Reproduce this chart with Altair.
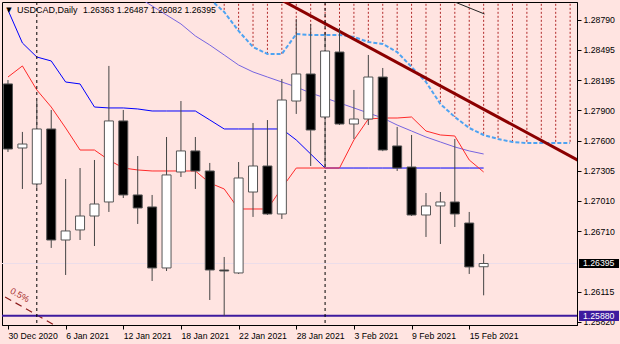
import altair as alt
import pandas as pd

# ---------------- data ----------------
dates = ["30 Dec", "31 Dec", "4 Jan", "5 Jan", "6 Jan", "7 Jan", "8 Jan", "11 Jan", "12 Jan",
         "13 Jan", "14 Jan", "15 Jan", "18 Jan", "19 Jan", "20 Jan", "21 Jan", "22 Jan", "25 Jan",
         "26 Jan", "27 Jan", "28 Jan", "29 Jan", "1 Feb", "2 Feb", "3 Feb", "4 Feb", "5 Feb",
         "8 Feb", "9 Feb", "10 Feb", "11 Feb", "12 Feb", "15 Feb", "16 Feb"]

opens = [1.28161, 1.27531, 1.27177, 1.27718, 1.26626, 1.26725, 1.26862, 1.27000, 1.27797, 1.27069,
         1.26951, 1.26351, 1.27295, 1.27502, 1.27305, 1.26331, 1.26302, 1.27098, 1.27354, 1.26882,
         1.27993, 1.28259, 1.27836, 1.28475, 1.27767, 1.27816, 1.28229, 1.27551, 1.27344, 1.26872,
         1.26961, 1.27000, 1.26793, 1.26363]
highs = [1.28200, 1.27689, 1.27993, 1.27905, 1.27226, 1.27334, 1.27413, 1.28338, 1.27905, 1.27452,
         1.27069, 1.27639, 1.27993, 1.27639, 1.27384, 1.26459, 1.27393, 1.27777, 1.27806, 1.28210,
         1.28800, 1.28751, 1.28662, 1.28711, 1.28102, 1.28446, 1.28318, 1.27738, 1.27659, 1.27088,
         1.27098, 1.27620, 1.26902, 1.26487]
lows = [1.27492, 1.27128, 1.27138, 1.26548, 1.26282, 1.26626, 1.26567, 1.26902, 1.27039, 1.26784,
        1.26223, 1.26321, 1.27246, 1.27128, 1.26036, 1.25880, 1.26292, 1.26853, 1.26872, 1.26833,
        1.27866, 1.27354, 1.27344, 1.27757, 1.27620, 1.27757, 1.27500, 1.27305, 1.26862, 1.26656,
        1.26587, 1.26754, 1.26292, 1.26082]
closes = [1.27521, 1.27570, 1.27718, 1.26626, 1.26715, 1.26862, 1.26980, 1.27797, 1.27069, 1.26941,
          1.26351, 1.27266, 1.27502, 1.27305, 1.26331, 1.26321, 1.27236, 1.27354, 1.26882, 1.28003,
          1.28259, 1.27708, 1.28485, 1.27767, 1.27816, 1.28229, 1.27511, 1.27334, 1.26872, 1.26961,
          1.27000, 1.26882, 1.26361, 1.26395]

tenkan = [1.28229, 1.28338, 1.28102, 1.27934, 1.27728, 1.27511, 1.27511, 1.27413, 1.27334, 1.27315,
          1.27305, 1.27305, 1.27305, 1.27305, 1.27187, 1.27128, 1.26931, 1.26931, 1.26931, 1.27138,
          1.27334, 1.27334, 1.27334, 1.27334, 1.27610, 1.27816, 1.27826, 1.27826, 1.27836, 1.27698,
          1.27659, 1.27649, 1.27413, 1.27295]
kijun = [1.28888, 1.28564, 1.28426, 1.28387, 1.28180, 1.28161, 1.27934, 1.27925, 1.27925, 1.27915,
         1.27895, 1.27895, 1.27895, 1.27895, 1.27807, 1.27718, 1.27718, 1.27718, 1.27718, 1.27718,
         1.27610, 1.27472, 1.27334, 1.27334, 1.27334, 1.27334, 1.27334, 1.27334, 1.27334, 1.27334,
         1.27334, 1.27334, 1.27334, 1.27334]
ma_start = 8
ma_line = [1.29105, 1.29016, 1.28928, 1.28839, 1.28751, 1.28633, 1.28544, 1.28446, 1.28347, 1.28279,
           1.28229, 1.28180, 1.28131, 1.28072, 1.28023, 1.27974, 1.27925, 1.27875, 1.27826, 1.27757,
           1.27698, 1.27639, 1.27590, 1.27541, 1.27502, 1.27472]
span_start = 14
span = [1.28997, 1.28869, 1.28682, 1.28524, 1.28456, 1.28456, 1.28652, 1.28643, 1.28643, 1.28643,
        1.28623, 1.28574, 1.28554, 1.28475, 1.28328, 1.28180, 1.27964, 1.27836, 1.27728, 1.27659,
        1.27620, 1.27590, 1.27580, 1.27580, 1.27580, 1.27580]

trend_idx = [18, 40]
trend_val = [1.29061, 1.27376]
channel_idx = [-0.2, 4.0]
channel_val = [1.26066, 1.25727]
seg_idx = [31.0, 33.06]
seg_val = [1.28967, 1.28849]
month_sep_idx = [2, 22]

support_level = 1.25880
last_price = 1.26395

tick_idx = [0, 4, 8, 12, 16, 20, 24, 28, 32]
tick_labels = ["30 Dec 2020", "6 Jan 2021", "12 Jan 2021", "18 Jan 2021", "22 Jan 2021",
               "28 Jan 2021", "3 Feb 2021", "9 Feb 2021", "15 Feb 2021"]
y_ticks = [1.28790, 1.28495, 1.28195, 1.27900, 1.27600, 1.27305, 1.27010, 1.26710, 1.26115, 1.25820]

header_symbol = "USDCAD,Daily"
header_ohlc = "1.26363 1.26487 1.26082 1.26395"

# ---------------- scales ----------------
X_DOM = [-0.068, 39.13]
Y_DOM = [1.25790, 1.28967]
FONT = "Liberation Sans"

xs = alt.Scale(domain=X_DOM, nice=False, zero=False)
ys = alt.Scale(domain=Y_DOM, nice=False, zero=False)

label_expr = "".join(f"datum.value == {i} ? '{l}' : " for i, l in zip(tick_idx, tick_labels)) + "''"

x_axis = alt.Axis(values=tick_idx, labelExpr=label_expr, labelAlign="left", labelPadding=2,
                  tickSize=4, grid=False, title="", labelOverlap=False, labelFlush=False,
                  labelBound=False)
y_axis = alt.Axis(values=y_ticks, format=".5f", orient="right", tickSize=4, labelPadding=2,
                  grid=False, title="", labelOverlap=False, labelFlush=False, labelBound=False)


def Y(field):
    return alt.Y(field, scale=ys, axis=y_axis)


n = len(opens)
cdf = pd.DataFrame({
    "idx": list(range(n)), "date": dates,
    "open": opens, "high": highs, "low": lows, "close": closes,
})
cdf["fill"] = ["#ffffff" if c >= o else "#000000" for o, c in zip(opens, closes)]

ind = pd.DataFrame({"idx": list(range(n)), "tenkan": tenkan, "kijun": kijun})
ma_df = pd.DataFrame({"idx": list(range(ma_start, ma_start + len(ma_line))), "v": ma_line})
span_df = pd.DataFrame({"idx": list(range(span_start, span_start + len(span))), "v": span})
span_df["top"] = Y_DOM[1] + 0.001

X = alt.X("idx:Q", scale=xs, axis=x_axis)

hatch = alt.Chart(span_df).mark_rule(color="#b02828", strokeDash=[2, 2], strokeWidth=1, clip=True).encode(
    x=X, y=Y("top:Q"), y2="v:Q")
span_line = alt.Chart(span_df).mark_line(color="#4ea3f2", strokeDash=[4, 2], strokeWidth=2, clip=True).encode(
    x=X, y=Y("v:Q"))
ma = alt.Chart(ma_df).mark_line(color="#7664e0", strokeWidth=1, clip=True).encode(
    x=X, y=Y("v:Q"))
kij = alt.Chart(ind).mark_line(color="#0000ff", strokeWidth=1, clip=True).encode(
    x=X, y=Y("kijun:Q"))
ten = alt.Chart(ind).mark_line(color="#ff2a2a", strokeWidth=1, clip=True).encode(
    x=X, y=Y("tenkan:Q"))

trend = alt.Chart(pd.DataFrame({"idx": trend_idx, "v": trend_val})).mark_line(
    color="#8b0000", strokeWidth=3, clip=True).encode(x=X, y=Y("v:Q"))
channel = alt.Chart(pd.DataFrame({"idx": channel_idx, "v": channel_val})).mark_line(
    color="#8b1a1a", strokeWidth=1.2, strokeDash=[7, 5], clip=True).encode(x=X, y=Y("v:Q"))
seg = alt.Chart(pd.DataFrame({"idx": seg_idx, "v": seg_val})).mark_line(
    color="#222222", strokeWidth=1, clip=True).encode(x=X, y=Y("v:Q"))

bid_line = alt.Chart(pd.DataFrame({"v": [last_price]})).mark_rule(color="#ecdde9", strokeWidth=1).encode(
    y=Y("v:Q"))
support = alt.Chart(pd.DataFrame({"v": [support_level]})).mark_rule(color="#3d1a9e", strokeWidth=2).encode(
    y=Y("v:Q"))
seps = alt.Chart(pd.DataFrame({"idx": month_sep_idx})).mark_rule(color="#000000", strokeDash=[3, 3], strokeWidth=1).encode(
    x=X)

wicks = alt.Chart(cdf).mark_rule(color="#444444", strokeWidth=1, clip=True).encode(
    x=X, y=Y("low:Q"), y2="high:Q")
bodies = alt.Chart(cdf).mark_bar(size=9, stroke="#555555", strokeWidth=1, clip=True).encode(
    x=X, y=Y("open:Q"), y2="close:Q",
    fill=alt.Fill("fill:N", scale=None))

# price boxes on the right axis
box_df = pd.DataFrame({
    "v": [last_price, support_level],
    "lo": [last_price - 0.00045, support_level - 0.00050],
    "hi": [last_price + 0.00045, support_level + 0.00050],
    "txt": [f"{last_price:.5f}", f"{support_level:.5f}"],
    "bg": ["#000000", "#3d1a9e"],
})
boxes = alt.Chart(box_df).mark_rect().encode(
    x=alt.value(577), x2=alt.value(617),
    y=Y("lo:Q"), y2="hi:Q",
    fill=alt.Fill("bg:N", scale=None))
box_txt = alt.Chart(box_df).mark_text(align="left", baseline="middle", color="white",
                                      font=FONT, fontSize=8.7).encode(
    x=alt.value(581), y=Y("v:Q"), text="txt:N")

tri = alt.Chart(pd.DataFrame({"t": ["\u25BC"]})).mark_text(
    align="center", baseline="middle", fontSize=7, color="#000000", font="DejaVu Sans").encode(
    x=alt.value(7), y=alt.value(8), text="t:N")
hdr1 = alt.Chart(pd.DataFrame({"t": [header_symbol]})).mark_text(
    align="left", baseline="middle", fontSize=9, color="#000000", font=FONT).encode(
    x=alt.value(15), y=alt.value(8), text="t:N")
hdr2 = alt.Chart(pd.DataFrame({"t": [header_ohlc]})).mark_text(
    align="left", baseline="middle", fontSize=8.7, color="#000000", font=FONT).encode(
    x=alt.value(81), y=alt.value(8), text="t:N")

pct = alt.Chart(pd.DataFrame({"idx": [0.82], "v": [1.26085], "t": ["0.5%"]})).mark_text(
    align="center", baseline="middle", angle=29, fontSize=9, color="#a52a2a", font=FONT).encode(
    x=X, y=Y("v:Q"), text="t:N")

chart = alt.layer(
    hatch, span_line, ma, kij, ten, trend, channel, seg, bid_line, support, seps,
    wicks, bodies, boxes, box_txt, tri, hdr1, hdr2, pct
).properties(
    width=575, height=323,
    autosize=alt.AutoSizeParams(type="none"),
    padding={"left": 2, "top": 2, "right": 43, "bottom": 19},
    background="#ffe4e1",
).configure_view(
    stroke="#000000", strokeWidth=1
).configure_axis(
    labelFont=FONT, labelFontSize=8.7, labelColor="#000000",
    domainColor="#000000", tickColor="#000000", domainWidth=1, tickWidth=1
)

chart.save("out.html", embed_options={"renderer": "svg", "actions": False})
